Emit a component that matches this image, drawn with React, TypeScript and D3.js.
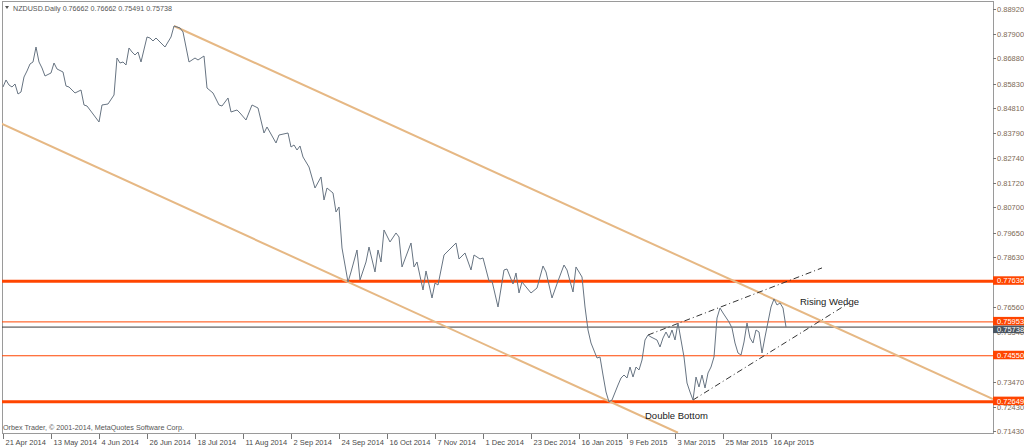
import React, { useEffect } from 'react';
import * as d3 from 'd3';

// closes, keyed by bar number (bar 0 = 21 Apr 2014)
const barIdx = [
  0, 1, 2, 3, 4, 5, 6, 7, 8, 9, 10, 11, 12, 13, 14, 16, 17, 18, 20, 21, 22, 24, 26, 27, 28, 29, 31, 32, 33, 35,
  37, 38, 39, 40, 41, 42, 43, 44, 45, 46, 48, 49, 50, 51, 54, 56, 57, 59, 60, 62, 64, 65, 67, 68, 70, 72, 73, 75,
  76, 78, 79, 81, 83, 85, 87, 88, 91, 92, 95, 96, 97, 98, 99, 100, 102, 104, 106, 107, 108, 110, 111, 112, 113,
  115, 116, 118, 119, 121, 122, 124, 125, 126, 127, 129, 131, 132, 133, 136, 137, 138, 140, 141, 143, 144, 145,
  147, 149, 151, 152, 154, 156, 157, 159, 160, 162, 163, 165, 167, 168, 170, 171, 172, 173, 176, 178, 180, 181,
  183, 185, 187, 188, 190, 191, 193, 194, 195, 196, 198, 199, 200, 201, 202, 203, 205, 206, 207, 208, 209, 210,
  211, 212, 213, 214, 215, 216, 218, 219, 220, 221, 222, 223, 224, 225, 227, 228, 229, 230, 231, 232, 233, 234,
  235, 236, 237, 238, 239, 240, 242, 243, 244, 245, 246, 247, 248, 249, 250, 251, 252, 253, 254, 256, 257, 258,
  259, 260, 261,
];
const closes = [
  0.85688, 0.85978, 0.8577, 0.85688, 0.85812, 0.85397, 0.8548, 0.86102, 0.86351, 0.86641, 0.86724, 0.87345,
  0.86724, 0.86475, 0.86144, 0.86268, 0.86682, 0.86434, 0.86309, 0.85729, 0.85688, 0.85439, 0.85563, 0.84942,
  0.849, 0.84735, 0.84403, 0.84237, 0.84942, 0.84983, 0.85356, 0.86889, 0.86682, 0.86724, 0.86599, 0.87304,
  0.87138, 0.87014, 0.87138, 0.86724, 0.8776, 0.87718, 0.87594, 0.87718, 0.87345, 0.8776, 0.88215, 0.88133,
  0.87967, 0.86724, 0.86889, 0.86807, 0.86972, 0.85646, 0.85439, 0.84942, 0.849, 0.85232, 0.84652, 0.84735,
  0.8461, 0.8432, 0.84942, 0.84817, 0.83781, 0.8403, 0.83367, 0.83698, 0.83781, 0.83201, 0.83284, 0.83077,
  0.83243, 0.82787, 0.82372, 0.81502, 0.81958, 0.81005, 0.81502, 0.81295, 0.80508, 0.80715, 0.79016, 0.77607,
  0.78021, 0.78933, 0.7769, 0.78436, 0.79057, 0.78021, 0.78933, 0.78436, 0.79762, 0.79265, 0.79638, 0.79472,
  0.78229, 0.79223, 0.78229, 0.78436, 0.77275, 0.78063, 0.76944, 0.77565, 0.77482, 0.78726, 0.78974, 0.79223,
  0.7856, 0.78809, 0.78104, 0.78726, 0.7856, 0.78602, 0.77648, 0.77648, 0.76571, 0.78104, 0.78146, 0.77524,
  0.7798, 0.77151, 0.77607, 0.77151, 0.77358, 0.7827, 0.78021, 0.76944, 0.77648, 0.78311, 0.78104, 0.77192,
  0.78229, 0.77814, 0.76571, 0.75617, 0.75078, 0.74457, 0.74498, 0.73752, 0.73048, 0.72634, 0.72717, 0.73338,
  0.73628, 0.73752, 0.73628, 0.74084, 0.73669, 0.74084, 0.7396, 0.74374, 0.75203, 0.7541, 0.75327, 0.75203,
  0.74913, 0.75286, 0.75534, 0.75286, 0.75617, 0.75203, 0.75908, 0.74498, 0.73421, 0.73048, 0.72717, 0.73669,
  0.73255, 0.73752, 0.73214, 0.73835, 0.74084, 0.74498, 0.76115, 0.76529, 0.76322, 0.75949, 0.757, 0.75078,
  0.74664, 0.74581, 0.7512, 0.75908, 0.75286, 0.75078, 0.75617, 0.75534, 0.74664, 0.75327, 0.76571, 0.76902,
  0.76654, 0.76737, 0.76529, 0.75738,
];

const dateLabels = [
  '21 Apr 2014', '13 May 2014', '4 Jun 2014', '26 Jun 2014', '18 Jul 2014', '11 Aug 2014', '2 Sep 2014',
  '24 Sep 2014', '16 Oct 2014', '7 Nov 2014', '1 Dec 2014', '23 Dec 2014', '16 Jan 2015', '9 Feb 2015',
  '3 Mar 2015', '25 Mar 2015', '16 Apr 2015',
];
const barsPerLabel = 16;

const priceTicks = [
  0.8892, 0.879, 0.8688, 0.8583, 0.8481, 0.8379, 0.8274, 0.8172, 0.807, 0.7965, 0.7863, 0.7656, 0.7554,
  0.7347, 0.7243, 0.7143,
];

const majorLevels = [0.77636, 0.72649];
const minorLevels = [0.75953, 0.7455];
const bidPrice = 0.75738;

// channel and wedge lines: [bar, price] pairs
const channelTop: [number, number][] = [[57, 0.88215], [330, 0.72758]];
const channelBottom: [number, number][] = [[-1, 0.84196], [225, 0.71358]];
const wedgeTop: [number, number][] = [[215, 0.7541], [273, 0.7819]];
const wedgeBottom: [number, number][] = [[230, 0.72717], [282, 0.76737]];

const W = 1024;
const H = 447;
const plot = { left: 2, top: 1, right: 993, bottom: 433 };

const AXIS_FONT = "'Liberation Sans', Arial, sans-serif";
const RED = '#ff4500';
const TAN = '#e6b884';

export default function App() {
  useEffect(() => {
    document.body.style.margin = '0';
  }, []);

  const x = d3.scaleLinear().domain([0, 330]).range([3, 993]);
  const y = d3.scaleLinear().domain([0.71349, 0.8921]).range([433, 2]);

  const priceLine = d3
    .line<number>()
    .x((_, i) => x(barIdx[i]))
    .y((d) => y(d))(closes) as string;

  const seg = d3
    .line<[number, number]>()
    .x((d) => x(d[0]))
    .y((d) => y(d[1]));

  const fmt = d3.format('.5f');

  return (
    <svg width={W} height={H} style={{ display: 'block', background: '#fff' }}>
      <defs>
        <clipPath id="plotClip">
          <rect x={plot.left} y={plot.top} width={plot.right - plot.left} height={plot.bottom - plot.top} />
        </clipPath>
      </defs>

      <rect
        x={plot.left + 0.5}
        y={plot.top + 0.5}
        width={plot.right - plot.left}
        height={plot.bottom - plot.top}
        fill="#fff"
        stroke="#9a9a9a"
      />

      <g clipPath="url(#plotClip)">
        {majorLevels.map((v) => (
          <line key={v} x1={plot.left} x2={plot.right} y1={y(v)} y2={y(v)} stroke={RED} strokeWidth={3} />
        ))}
        {minorLevels.map((v) => (
          <line key={v} x1={plot.left} x2={plot.right} y1={y(v)} y2={y(v)} stroke={RED} strokeWidth={1} />
        ))}
        <line x1={plot.left} x2={plot.right} y1={y(bidPrice)} y2={y(bidPrice)} stroke="#3a3a3a" strokeWidth={1} />

        <path d={seg(channelTop) as string} stroke={TAN} strokeWidth={2} fill="none" />
        <path d={seg(channelBottom) as string} stroke={TAN} strokeWidth={2} fill="none" />

        <path d={seg(wedgeTop) as string} stroke="#333" strokeWidth={1} strokeDasharray="6,3,1,3" fill="none" />
        <path d={seg(wedgeBottom) as string} stroke="#333" strokeWidth={1} strokeDasharray="6,3,1,3" fill="none" />

        <path d={priceLine} stroke="#677482" strokeWidth={1} fill="none" strokeLinejoin="round" />
      </g>

      <text x={800} y={304.5} fontFamily={AXIS_FONT} fontSize={9.5} fill="#1a1a1a">
        Rising Wedge
      </text>
      <text x={645} y={418.5} fontFamily={AXIS_FONT} fontSize={9.5} fill="#1a1a1a">
        Double Bottom
      </text>

      {/* title */}
      <path d="M5,6 L9,6 L7,9 Z" fill="#555" />
      <text x={13} y={11} fontFamily={AXIS_FONT} fontSize={8} fill="#555" textLength={159} lengthAdjust="spacingAndGlyphs">
        NZDUSD.Daily  0.76662 0.76662 0.75491 0.75738
      </text>
      <text x={3} y={430} fontFamily={AXIS_FONT} fontSize={7.5} fill="#555" textLength={181} lengthAdjust="spacingAndGlyphs">
        Orbex Trader, © 2001-2014, MetaQuotes Software Corp.
      </text>

      {/* price axis */}
      <g fontFamily={AXIS_FONT} fontSize={7.5}>
        {priceTicks.map((v) => (
          <g key={v}>
            <line x1={993} x2={996} y1={Math.round(y(v)) + 0.5} y2={Math.round(y(v)) + 0.5} stroke="#777" />
            <text x={997} y={y(v) + 3} fill="#7d6a55">
              {fmt(v)}
            </text>
          </g>
        ))}
        {[...majorLevels, ...minorLevels].map((v) => (
          <g key={'l' + v}>
            <rect x={993} y={y(v) - 5} width={31} height={8.5} fill={RED} />
            <text x={997} y={y(v) + 2} fill="#fff">
              {fmt(v)}
            </text>
          </g>
        ))}
        <rect x={993} y={y(bidPrice) - 1.5} width={31} height={7.5} fill="#4a5561" />
        <text x={997} y={y(bidPrice) + 4.5} fill="#fff">
          {fmt(bidPrice)}
        </text>
      </g>

      {/* time axis */}
      <g fontFamily={AXIS_FONT} fontSize={7.5} fill="#4a4a4a">
        {dateLabels.map((label, k) => {
          const px = Math.round(x(k * barsPerLabel)) + 0.5;
          return (
            <g key={label}>
              <line x1={px} x2={px} y1={434} y2={439} stroke="#777" />
              <text x={px + 2} y={445}>
                {label}
              </text>
            </g>
          );
        })}
      </g>
    </svg>
  );
}
